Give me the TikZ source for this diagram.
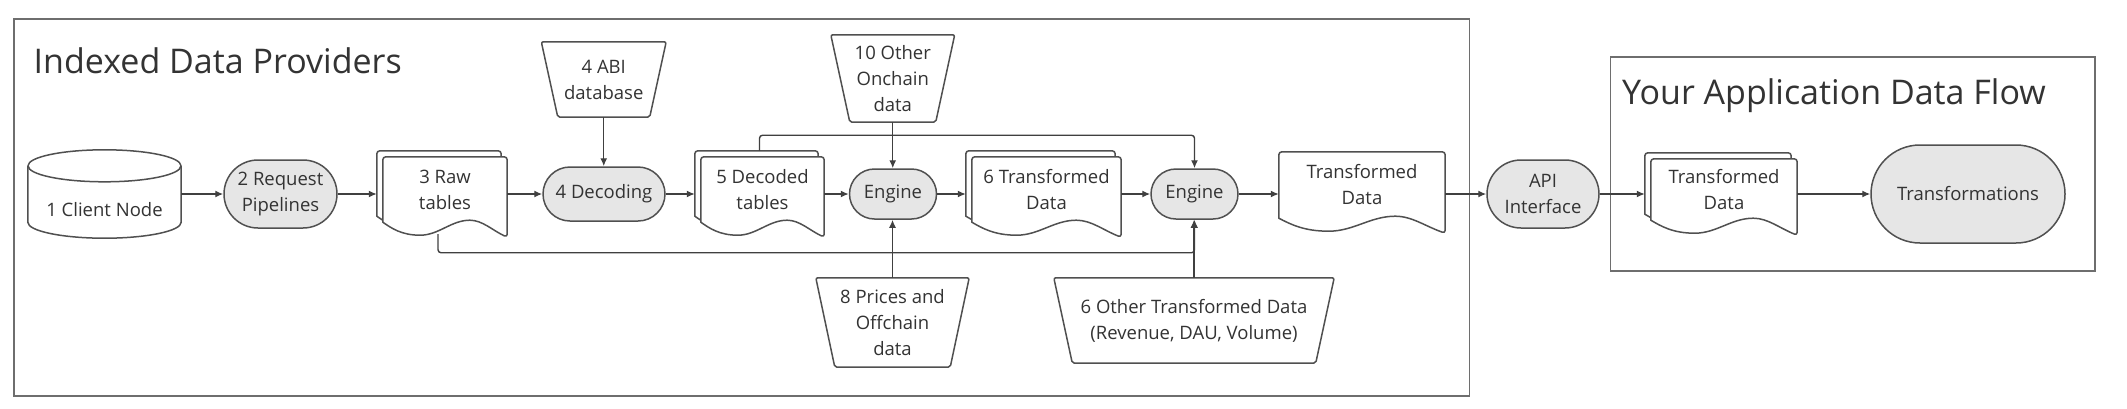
\documentclass[tikz,border=0pt]{standalone}
\usepackage{fontspec}
\setmainfont{Open Sans}
\usetikzlibrary{calc,arrows.meta}
\pgfdeclarelayer{bg}
\pgfsetlayers{bg,main}
\definecolor{lc}{HTML}{505050}
\definecolor{ac}{HTML}{404040}
\definecolor{gf}{HTML}{E6E6E6}
\definecolor{tc}{HTML}{333333}
\definecolor{bc}{HTML}{6E6E6E}
\tikzset{
 txt/.style={font=\fontsize{18.5pt}{26pt}\selectfont, text=tc, align=center, inner sep=0pt},
 stadium/.style={txt, rectangle, draw=lc, line width=1.5pt, fill=gf},
 box/.style={txt, rectangle, draw=none},
 shapeline/.style={draw=lc, line width=1.5pt, fill=white, line join=round},
 conn/.style={draw=ac, line width=1.4pt, -{Latex[length=8pt,width=7pt]}},
 titletxt/.style={font=\fontsize{34pt}{40pt}\selectfont, text=tc, inner sep=0pt, anchor=base west},
 frame/.style={draw=bc, line width=1.8pt},
}
\newcommand\drawdoc[3]{%
 \draw[shapeline] let \p1=($(#1.south west)+(#2,#3)$), \p2=($(#1.north east)+(#2,#3)$), \n1={\x2-\x1} in
 (\x1,\y1) [rounded corners=3pt] -- (\x1,\y2) -- (\x2,\y2) -- (\x2,\y1-15pt) [sharp corners]
 .. controls (\x2-0.12*\n1,\y1-8pt) and (\x1+0.8*\n1,\y1+2pt) .. (\x1+0.7*\n1,\y1+2pt)
 .. controls (\x1+0.55*\n1,\y1+2pt) and (\x1+0.45*\n1,\y1-13pt) .. (\x1+0.3*\n1,\y1-13pt)
 .. controls (\x1+0.15*\n1,\y1-13pt) and (\x1+0.07*\n1,\y1-6pt) .. (\x1,\y1) -- cycle;}
\newcommand\drawtrap[2]{%
 \draw[shapeline, rounded corners=2pt] (#1.north west) -- (#1.north east) -- ($(#1.south east)+(-#2,0)$) -- ($(#1.south west)+(#2,0)$) -- cycle;}
\begin{document}
\begin{tikzpicture}[x=1pt,y=-1pt]
\useasboundingbox (0,0) rectangle (2127,408);
% titles
\node[titletxt] (t1) at (33.5,73) {Indexed Data Providers};
\node[titletxt] (t2) at (1622,104) {Your Application Data Flow};
% nodes
\node[box, minimum width=153pt, minimum height=88pt] (cn) at (104.5,194) {};
\node[txt] (cnt) at (104.5,210) {1 Client Node};
\node[stadium, rounded corners=34pt, minimum width=113pt, minimum height=68pt] (req) at (280.5,194) {2 Request\\Pipelines};
\node[box, minimum width=124pt, minimum height=65pt] (raw) at (445,189.5) {3 Raw\\tables};
\node[stadium, rounded corners=27pt, minimum width=122pt, minimum height=54pt] (dec) at (604,194) {4 Decoding};
\node[box, minimum width=124.5pt, minimum height=75pt] (abi) at (603.75,79.5) {4 ABI\\database};
\node[box, minimum width=123pt, minimum height=65pt] (decd) at (762.5,189.5) {5 Decoded\\tables};
\node[box, minimum width=123.5pt, minimum height=87pt] (onch) at (892.75,78.5) {10 Other\\Onchain\\data};
\node[stadium, rounded corners=25pt, minimum width=87pt, minimum height=50pt] (eng1) at (893,194) {Engine};
\node[box, minimum width=153pt, minimum height=89pt] (prc) at (892.5,322.5) {8 Prices and\\Offchain\\data};
\node[box, minimum width=149pt, minimum height=65pt] (t6) at (1046.5,189.5) {6 Transformed\\Data};
\node[stadium, rounded corners=25pt, minimum width=87pt, minimum height=50pt] (eng2) at (1194.5,194) {Engine};
\node[box, minimum width=280pt, minimum height=85pt] (oth) at (1194,320.5) {6 Other Transformed Data\\(Revenue, DAU, Volume)};
\node[box, minimum width=166pt, minimum height=66pt] (td) at (1362,185) {Transformed\\Data};
\node[stadium, rounded corners=34pt, minimum width=112pt, minimum height=68pt] (api) at (1543,194) {API\\Interface};
\node[box, minimum width=146pt, minimum height=61pt] (tdr) at (1724,189.5) {Transformed\\Data};
\node[stadium, rounded corners=49pt, minimum width=194pt, minimum height=98pt] (trf) at (1968,194) {Transformations};
% shapes on background
\begin{pgfonlayer}{bg}
\draw[frame] (14,19) rectangle (1469.5,396);
\draw[frame] (1610.5,57) rectangle (2095,271);
\draw[shapeline] ($(cn.north west)+(0,16)$) -- ($(cn.south west)+(0,-16)$)
  .. controls ($(cn.south west)+(0,-7.16)$) and ($(cn.south)+(-42.25,0)$) .. (cn.south)
  .. controls ($(cn.south)+(42.25,0)$) and ($(cn.south east)+(0,-7.16)$) .. ($(cn.south east)+(0,-16)$)
  -- ($(cn.north east)+(0,16)$);
\draw[shapeline] ($(cn.north)+(0,16)$) ellipse [x radius=76.5, y radius=16];
\drawdoc{raw}{-6}{-6}\drawdoc{raw}{0}{0}
\drawdoc{decd}{-6}{-6}\drawdoc{decd}{0}{0}
\drawdoc{t6}{-6}{-6}\drawdoc{t6}{0}{0}
\drawdoc{td}{0}{0}
\drawdoc{tdr}{-6}{-6}\drawdoc{tdr}{0}{0}
\drawtrap{abi}{16.5}
\drawtrap{onch}{19}
\drawtrap{prc}{19}
\drawtrap{oth}{18.5}
\end{pgfonlayer}
% connectors
\draw[conn] (cn.east) -- (cn.east -| req.west);
\draw[conn] (req.east) -- ($(req.east -| raw.west)+(-6,0)$);
\draw[conn] (raw.east |- dec.west) -- (dec.west);
\draw[conn] (abi.south) -- (abi.south |- dec.north);
\draw[conn] (dec.east) -- ($(dec.east -| decd.west)+(-6,0)$);
\draw[conn] (decd.east |- eng1.west) -- (eng1.west);
\draw[conn] (onch.south) -- (onch.south |- eng1.north);
\draw[conn] (prc.north) -- (prc.north |- eng1.south);
\draw[conn] (eng1.east) -- ($(eng1.east -| t6.west)+(-6,0)$);
\draw[conn] (t6.east |- eng2.west) -- (eng2.west);
\draw[conn, rounded corners=3pt] ($(decd.north)+(-3,-6)$) |- ($(eng2.north)+(0,-33)$) -- (eng2.north);
\draw[conn, rounded corners=3pt] ($(raw.south)+(-7,12)$) |- ($(eng2.south)+(0,33)$) -- (eng2.south);
\draw[conn] (oth.north) -- (oth.north |- eng2.south);
\draw[conn] (eng2.east) -- (eng2.east -| td.west);
\draw[conn] (td.east |- api.west) -- (api.west);
\draw[conn] (api.east) -- ($(api.east -| tdr.west)+(-6,0)$);
\draw[conn] (tdr.east |- trf.west) -- (trf.west);
\end{tikzpicture}
\end{document}
